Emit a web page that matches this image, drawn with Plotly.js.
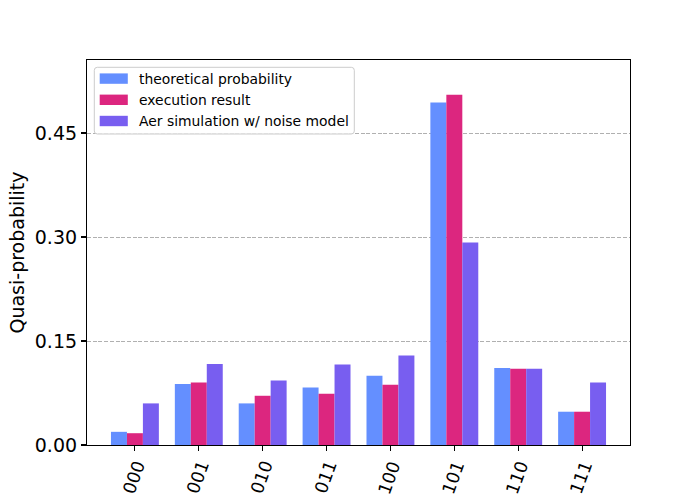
<!DOCTYPE html>
<html>
<head>
<meta charset="utf-8">
<script src="https://cdn.plot.ly/plotly-3.0.1.min.js"></script>
<style>
  html, body { margin: 0; padding: 0; background: #fff; }
  #chart { width: 700px; height: 500px; }
</style>
</head>
<body>
<div id="chart"></div>
<script>
// Measurement outcomes (3-qubit bitstrings)
const states = ["000", "001", "010", "011", "100", "101", "110", "111"];

// Quasi-probabilities per outcome
const theoretical = [0.019, 0.088, 0.060, 0.083, 0.100, 0.494, 0.111, 0.048];
const execution   = [0.017, 0.090, 0.071, 0.074, 0.087, 0.505, 0.110, 0.048];
const aerNoise    = [0.060, 0.117, 0.093, 0.116, 0.129, 0.292, 0.110, 0.090];

const seriesNames = ["theoretical probability", "execution result", "Aer simulation w/ noise model"];
const yTicks = [0.00, 0.15, 0.30, 0.45];

const colors = ["#648fff", "#dc267f", "#785ef0"];
const font = "DejaVu Sans, sans-serif";

// Plot area in pixels
const W = 700, H = 500;
const M = { l: 87, r: 70, t: 60, b: 55 };
const pw = W - M.l - M.r, ph = H - M.t - M.b;
const px = x => (x - M.l) / pw;          // pixel x -> paper x
const py = y => (H - M.b - y) / ph;      // pixel y -> paper y

const traces = [theoretical, execution, aerNoise].map((vals, i) => ({
  type: "bar",
  x: states,
  y: vals,
  name: seriesNames[i],
  marker: { color: colors[i], line: { width: 0 } },
  hoverinfo: "x+y+name"
}));

// Rotated category labels under the x axis (placed by category index,
// since bitstrings like "010" would otherwise be read as numbers)
const annotations = states.map((s, i) => ({
  x: i, xref: "x",
  y: 0, yref: "paper",
  text: s,
  showarrow: false,
  textangle: -70,
  xanchor: "center", yanchor: "middle",
  xshift: -1.5, yshift: -32.5,
  borderpad: 0,
  font: { family: font, size: 17.5, color: "#000000" }
}));

// Legend box in the upper-left corner
const shapes = [];
const box = { x0: 94.3, x1: 354.3, y0: 67.3, y1: 134, r: 3 };
const X0 = px(box.x0), X1 = px(box.x1), Y0 = py(box.y0), Y1 = py(box.y1);
const rx = box.r / pw, ry = box.r / ph;
shapes.push({
  type: "path", xref: "paper", yref: "paper", layer: "above",
  path: `M ${X0 + rx},${Y0} L ${X1 - rx},${Y0} Q ${X1},${Y0} ${X1},${Y0 - ry} ` +
        `L ${X1},${Y1 + ry} Q ${X1},${Y1} ${X1 - rx},${Y1} ` +
        `L ${X0 + rx},${Y1} Q ${X0},${Y1} ${X0},${Y1 + ry} ` +
        `L ${X0},${Y0 - ry} Q ${X0},${Y0} ${X0 + rx},${Y0} Z`,
  fillcolor: "rgba(255,255,255,0.8)",
  line: { color: "#cccccc", width: 1 }
});
const rowY = [78.6, 99.8, 121.0];
seriesNames.forEach((name, i) => {
  shapes.push({
    type: "rect", xref: "paper", yref: "paper", layer: "above",
    x0: px(99.7), x1: px(127.8), y0: py(rowY[i] - 5.2), y1: py(rowY[i] + 5.2),
    fillcolor: colors[i], line: { width: 0 }
  });
  annotations.push({
    x: px(138), xref: "paper", y: py(rowY[i]), yref: "paper",
    text: name, showarrow: false,
    xanchor: "left", yanchor: "middle", borderpad: 0,
    font: { family: font, size: 13.9, color: "#000000" }
  });
});

const layout = {
  width: W,
  height: H,
  paper_bgcolor: "#ffffff",
  plot_bgcolor: "#ffffff",
  margin: { l: M.l, r: M.r, t: M.t, b: M.b, pad: 0 },
  barmode: "group",
  bargap: 0.25,
  bargroupgap: 0,
  font: { family: font, color: "#000000" },
  showlegend: false,
  xaxis: {
    type: "category",
    range: [-0.75, 7.75],
    showgrid: false,
    zeroline: false,
    showline: true, linecolor: "#000000", linewidth: 1.1, mirror: true,
    ticks: "outside", ticklen: 5, tickwidth: 1.1, tickcolor: "#000000",
    showticklabels: false,
    automargin: false,
    fixedrange: true
  },
  yaxis: {
    range: [0, 0.5553],
    tickvals: yTicks,
    tickformat: ".2f",
    showgrid: true, gridcolor: "#b0b0b0", gridwidth: 1, griddash: "4px,1.7px",
    zeroline: false,
    showline: true, linecolor: "#000000", linewidth: 1.1, mirror: true,
    ticks: "outside", ticklen: 5, tickwidth: 1.1, tickcolor: "#000000",
    tickfont: { family: font, size: 19, color: "#000000" },
    title: { text: "Quasi-probability", font: { family: font, size: 19, color: "#000000" }, standoff: 5 },
    automargin: false,
    fixedrange: true
  },
  shapes: shapes,
  annotations: annotations
};

Plotly.newPlot("chart", traces, layout, { displayModeBar: false, staticPlot: true });
</script>
</body>
</html>
